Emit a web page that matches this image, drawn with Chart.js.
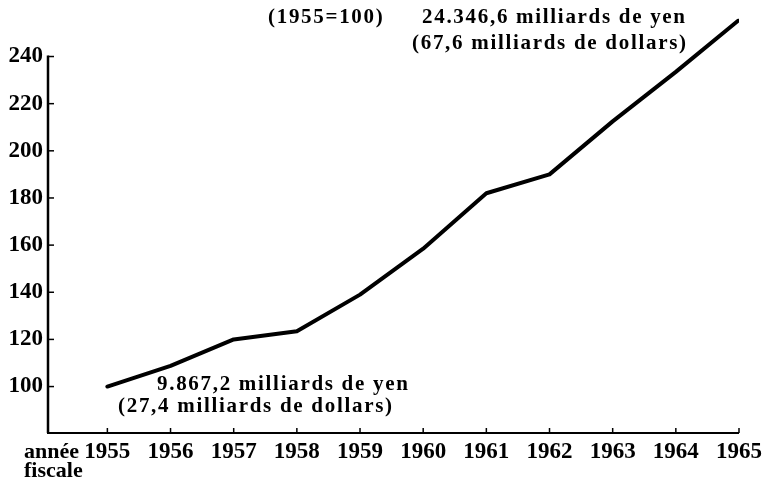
<!DOCTYPE html>
<html><head><meta charset="utf-8">
<script src="https://cdn.jsdelivr.net/npm/chart.js@4/dist/chart.umd.min.js"></script>
<style>html,body{margin:0;padding:0;background:#fff}#wrap{width:767px;height:482px;position:relative}</style>
</head><body><div id="wrap"><canvas id="c" width="767" height="482"></canvas></div>
<script>
const years = [1955, 1956, 1957, 1958, 1959, 1960, 1961, 1962, 1963, 1964, 1965];
const indexValues = [100, 108.8, 120, 123.5, 139, 158.5, 182, 190, 212.5, 233.5, 255.5];
const yTickValues = [100, 120, 140, 160, 180, 200, 220, 240];
const xTickLabels = years.map(String);
const baseLabel = '(1955=100)';
const noteStart = ['9.867,2 milliards de yen', '(27,4 milliards de dollars)'];
const noteEnd = ['24.346,6 milliards de yen', '(67,6 milliards de dollars)'];
const xAxisTitle = ['année', 'fiscale'];

const tickFont = {family: 'Liberation Serif', size: 23, weight: 'bold'};

const axesPlugin = {
  id: 'axesPlugin',
  afterDraw(chart) {
    const ctx = chart.ctx;
    const xs = chart.scales.x, ys = chart.scales.y;
    const x0 = xs.left, yb = ys.bottom;
    ctx.save();
    ctx.strokeStyle = '#000';
    ctx.lineCap = 'butt';
    ctx.lineWidth = 2.5;
    ctx.beginPath();
    ctx.moveTo(x0, yb);
    ctx.lineTo(x0, ys.getPixelForValue(yTickValues[yTickValues.length - 1]) - 1);
    ctx.stroke();
    ctx.lineWidth = 2;
    ctx.beginPath();
    ctx.moveTo(x0 - 1, yb);
    ctx.lineTo(xs.getPixelForValue(years[years.length - 1]), yb);
    ctx.stroke();
    ctx.lineWidth = 1.5;
    yTickValues.forEach(v => {
      const y = ys.getPixelForValue(v);
      ctx.beginPath(); ctx.moveTo(x0, y); ctx.lineTo(x0 + 6, y); ctx.stroke();
    });
    years.forEach(v => {
      const x = xs.getPixelForValue(v);
      ctx.beginPath(); ctx.moveTo(x, yb); ctx.lineTo(x, yb - 5); ctx.stroke();
    });
    ctx.fillStyle = '#000';
    ctx.font = 'bold 22px "Liberation Serif"';
    ctx.textAlign = 'left';
    ctx.textBaseline = 'middle';
    ctx.fillText(xAxisTitle[0], 24, 452);
    ctx.fillText(xAxisTitle[1], 24, 471);
    ctx.font = 'bold 21px "Liberation Serif"';
    try { ctx.letterSpacing = '1.7px'; } catch (e) {}
    ctx.fillText(baseLabel, 268, 18);
    ctx.fillText(noteEnd[0], 422, 18);
    ctx.fillText(noteEnd[1], 412, 44);
    ctx.fillText(noteStart[0], 157, 385);
    ctx.fillText(noteStart[1], 118, 407);
    ctx.restore();
  }
};

new Chart(document.getElementById('c'), {
  type: 'line',
  data: {
    datasets: [{
      data: years.map((y, i) => ({x: y, y: indexValues[i]})),
      borderColor: '#000',
      borderWidth: 4,
      pointRadius: 0,
      tension: 0,
      borderJoinStyle: 'round',
      borderCapStyle: 'round'
    }]
  },
  options: {
    responsive: false,
    animation: false,
    layout: {padding: {top: 14, right: 21, left: 0, bottom: 0}},
    plugins: {legend: {display: false}, tooltip: {enabled: false}},
    scales: {
      x: {
        type: 'linear',
        min: 1954.06,
        max: 1965,
        afterBuildTicks: s => { s.ticks = years.map(v => ({value: v})); },
        afterFit: s => { s.height = 49; },
        grid: {display: false, drawTicks: false},
        border: {display: false},
        ticks: {
          autoSkip: false, maxRotation: 0, padding: 5, color: '#000', font: tickFont,
          callback: (v) => xTickLabels[years.indexOf(v)]
        }
      },
      y: {
        min: 80.3,
        max: 256,
        afterBuildTicks: s => { s.ticks = yTickValues.map(v => ({value: v})); },
        afterFit: s => { s.width = 48; },
        grid: {display: false, drawTicks: false},
        border: {display: false},
        ticks: {padding: 5, color: '#000', font: tickFont, callback: v => String(v)}
      }
    }
  },
  plugins: [axesPlugin]
});
</script>
</body></html>
